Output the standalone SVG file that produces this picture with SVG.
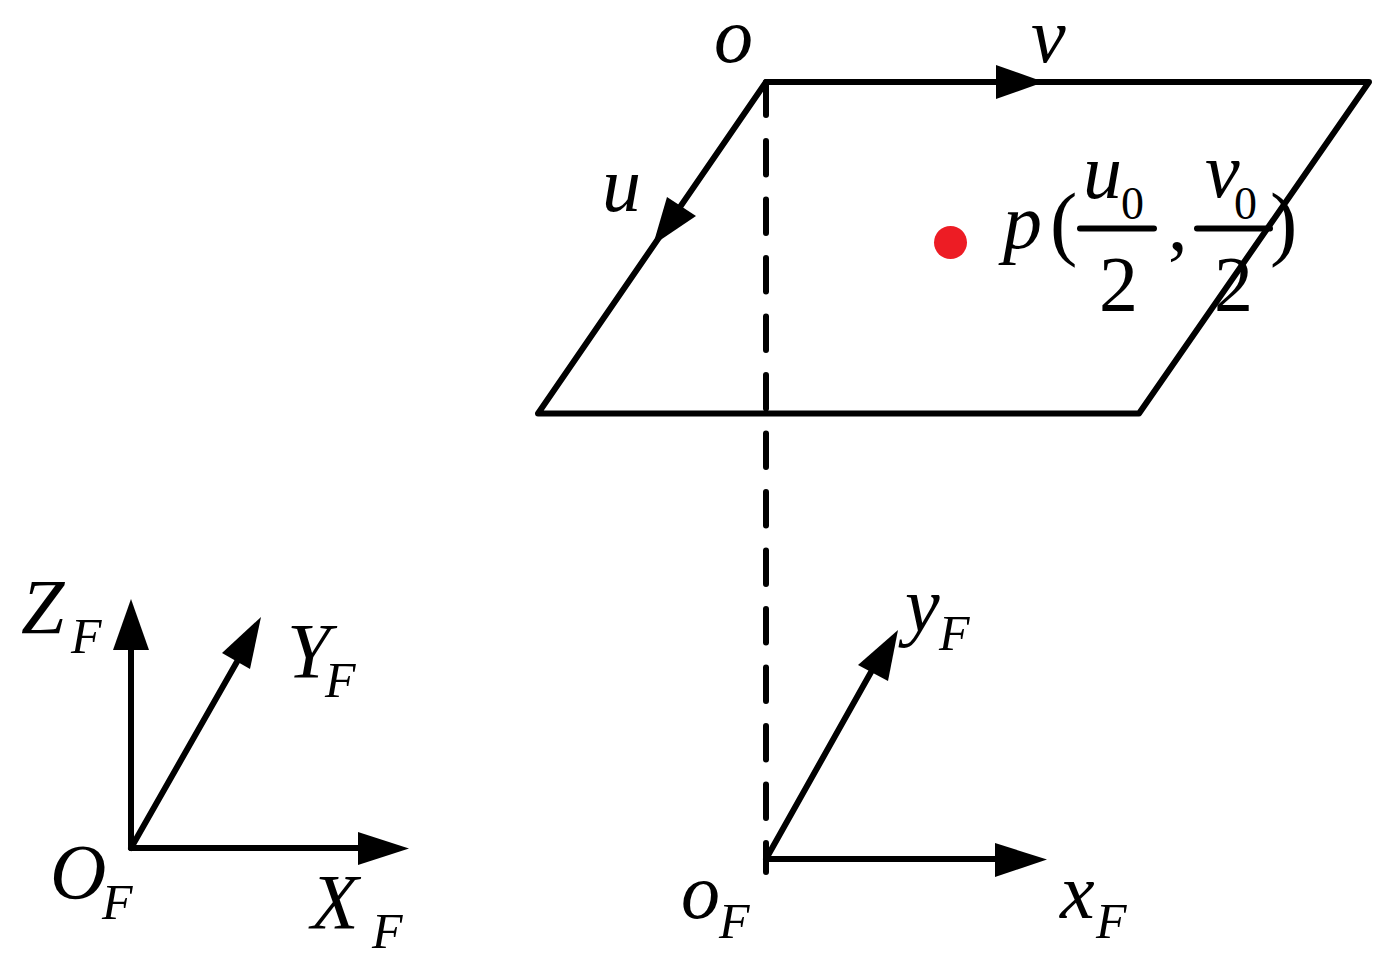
<svg xmlns="http://www.w3.org/2000/svg" width="1390" height="971" viewBox="0 0 1390 971">
<style>
.l{stroke:#000;stroke-width:6;fill:none;stroke-linecap:round;stroke-linejoin:round}
.d{stroke-dasharray:33.5 25}
.h{fill:#000;stroke:none}
text{font-family:"Liberation Serif","Times New Roman",serif;fill:#000}
.i{font-style:italic}
.b{font-size:78px}
.s{font-size:50px}
.z{font-size:46px}
.p{font-size:82px}
</style>
<rect width="1390" height="971" fill="#fff"/>
<g id="connectors">
<path class="l" d="M766 82H1369L1139 413.500H538Z"/>
<path class="l" d="M766 82V115"/>
<path class="l d" d="M766 141V872"/>
<path class="h" d="M996 65L1044 82L996 99Z"/>
<path class="h" d="M696 216L653 245L667 197Z"/>
<path class="l" d="M131 848V640"/><path class="h" d="M113 650L131 599L149 650Z"/>
<path class="l" d="M131 848L238 660"/><path class="h" d="M222 653L261 617L250 669Z"/>
<path class="l" d="M131 848H370"/><path class="h" d="M358 832L409 848.500L358 865Z"/>
<path class="l" d="M766 859L875 665"/><path class="h" d="M858 665L898 630L888 681Z"/>
<path class="l" d="M766 859H1005"/><path class="h" d="M995 843L1047 859.500L995 877Z"/>
<path class="l" d="M1080 228.500H1154M1197 228.500H1270"/>
</g>
<g id="point-p"><circle cx="950.500" cy="242.500" r="16.500" fill="#ed1c24"/></g>
<g id="labels">
<text class="i b" x="714" y="62">o</text>
<text class="i b" x="1031" y="62">v</text>
<text class="i b" x="602" y="211">u</text>
<text class="i b" x="1003" y="248">p</text>
<text class="p" x="1050" y="250">(</text>
<text class="i b" x="1083" y="198">u</text>
<text class="z" x="1121" y="219">0</text>
<text class="b" x="1099" y="310">2</text>
<text class="b" x="1168" y="250">,</text>
<text class="i b" x="1205" y="197">v</text>
<text class="z" x="1234" y="219">0</text>
<text class="b" x="1214" y="310">2</text>
<text class="p" x="1270" y="250">)</text>
<text class="i b" x="21" y="633">Z</text>
<text class="i s" x="71" y="653">F</text>
<text class="i b" x="287" y="677">Y</text>
<text class="i s" x="325" y="697">F</text>
<text class="i b" x="50" y="898">O</text>
<text class="i s" x="102" y="919">F</text>
<text class="i b" x="311" y="928">X</text>
<text class="i s" x="372" y="948">F</text>
<text class="i b" x="905" y="631">y</text>
<text class="i s" x="939" y="650">F</text>
<text class="i b" x="681" y="918">o</text>
<text class="i s" x="719" y="938">F</text>
<text class="i b" x="1060" y="918">x</text>
<text class="i s" x="1096" y="938">F</text>
</g>
</svg>
